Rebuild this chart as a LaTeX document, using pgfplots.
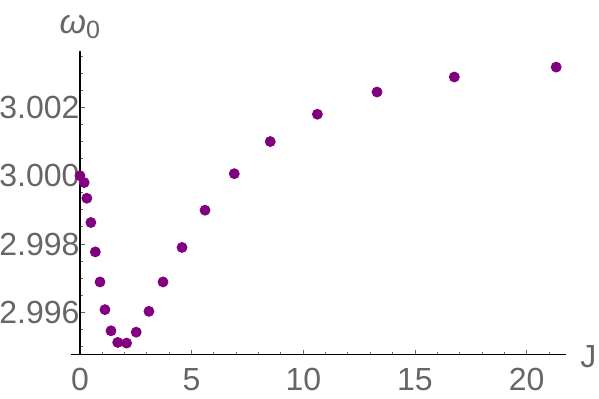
\documentclass[border=0pt]{standalone}
\usepackage{fontspec}
\setmainfont{Liberation Sans}
\usepackage{pgfplots}
\pgfplotsset{compat=1.18}
\definecolor{mmapurple}{rgb}{0.5,0,0.5}
\definecolor{labelgray}{HTML}{666666}

\begin{document}
\begin{tikzpicture}
\begin{axis}[
    scale only axis,
    width=247.5pt, height=152pt,
    xmin=-0.4, xmax=21.76,
    ymin=2.99476, ymax=3.00366,
    axis x line=bottom,
    axis y line=middle,
    axis line style={-, black, line width=0.6pt},
    hide obscured x ticks=false,
    hide obscured y ticks=false,
    tick align=inside,
    xtick={0,5,10,15,20},
    minor xtick={1,2,3,4,6,7,8,9,11,12,13,14,16,17,18,19,21},
    ytick={2.996,2.998,3.000,3.002},
    minor ytick={2.995,2.9955,2.9965,2.997,2.9975,2.9985,2.999,2.9995,3.0005,3.001,3.0015,3.0025,3.003,3.0035},
    major tick length=2.4pt, minor tick length=1.5pt,
    every tick/.style={labelgray, line width=0.5pt},
    yticklabel={\pgfmathprintnumber[fixed, fixed zerofill, precision=3]{\tick}},
    /pgf/number format/assume math mode=true,
    ticklabel style={font=\fontsize{16}{19}\selectfont, text=labelgray, inner sep=0pt},
    yticklabel style={anchor=east, xshift=0pt},
    xticklabel style={anchor=north, yshift=-6.5pt},
    xlabel={J},
    ylabel={\textit{ω}\raisebox{-0.25ex}{\fontsize{12.5}{14}\selectfont 0}},
    xlabel style={at={(axis cs:21.76,2.99476)}, anchor=base west, xshift=7pt, yshift=-6.2pt,
                  font=\fontsize{16}{19}\selectfont, text=labelgray, inner sep=0pt},
    ylabel style={at={(axis cs:0,3.00366)}, anchor=base, rotate=0, yshift=8.5pt,
                  font=\fontsize{17}{19}\selectfont, text=labelgray, inner sep=0pt},
    clip=false,
]
\addplot[only marks, mark=*, mark size=2.5pt, color=mmapurple, mark options={draw=mmapurple, fill=mmapurple}]
coordinates{
(0.00,3.00000)(0.19,2.99980)(0.31,2.99934)(0.49,2.99863)(0.69,2.99777)
(0.90,2.99689)(1.12,2.99608)(1.39,2.99546)(1.69,2.99512)(2.09,2.99510)
(2.52,2.99542)(3.09,2.99603)(3.72,2.99689)(4.57,2.99790)(5.60,2.99899)
(6.91,3.00006)(8.52,3.00100)(10.63,3.00180)(13.30,3.00245)(16.76,3.00289)
(21.32,3.00318)
};
\end{axis}
\pgfresetboundingbox
\path[use as bounding box] (-35.5pt,-21.65pt) rectangle (264pt,177.35pt);
\end{tikzpicture}
\end{document}
